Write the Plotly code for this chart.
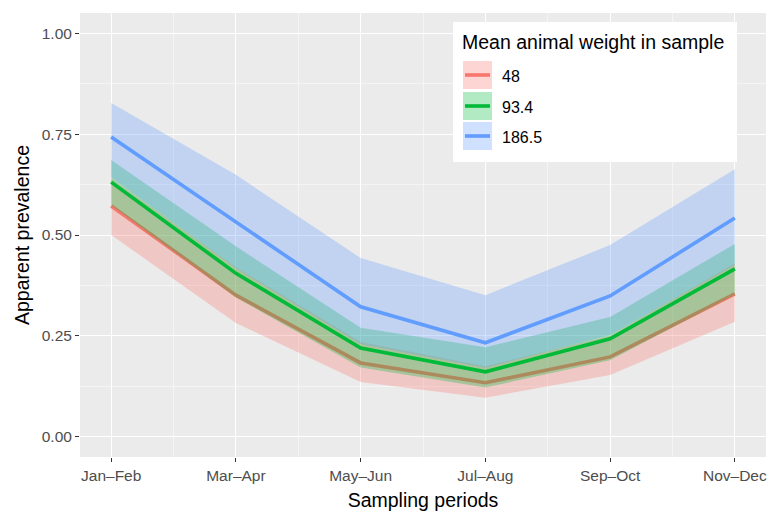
import plotly.graph_objects as go

# Sampling periods (x axis categories)
periods = ["Jan–Feb", "Mar–Apr", "May–Jun", "Jul–Aug", "Sep–Oct", "Nov–Dec"]

# Mean animal weight groups
weights = ["48", "93.4", "186.5"]

# Predicted apparent prevalence and confidence band per weight group
fit_48 = [0.572, 0.351, 0.183, 0.134, 0.198, 0.354]
low_48 = [0.500, 0.282, 0.136, 0.097, 0.153, 0.285]
upp_48 = [0.640, 0.420, 0.235, 0.175, 0.250, 0.430]

fit_93 = [0.631, 0.405, 0.220, 0.161, 0.243, 0.416]
low_93 = [0.574, 0.345, 0.172, 0.122, 0.190, 0.352]
upp_93 = [0.686, 0.472, 0.270, 0.222, 0.297, 0.478]

fit_186 = [0.743, 0.532, 0.322, 0.233, 0.349, 0.542]
low_186 = [0.643, 0.418, 0.230, 0.171, 0.252, 0.426]
upp_186 = [0.827, 0.649, 0.443, 0.351, 0.475, 0.663]

y_ticks = [0.0, 0.25, 0.5, 0.75, 1.0]
y_tick_labels = ["0.00", "0.25", "0.50", "0.75", "1.00"]

colors = ["#F8766D", "#00BA38", "#619CFF"]
fills = ["rgba(248,118,109,0.3)", "rgba(0,186,56,0.3)", "rgba(97,156,255,0.3)"]

series = [
    (fit_48, low_48, upp_48),
    (fit_93, low_93, upp_93),
    (fit_186, low_186, upp_186),
]

W, H = 767, 515
ML, MR, MT, MB = 80, 1, 13, 58
PW, PH = W - ML - MR, H - MT - MB

xpos = list(range(1, len(periods) + 1))

fig = go.Figure()
for (fit, low, upp), col, fc, name in zip(series, colors, fills, weights):
    # ribbon as a closed polygon: upper edge forward, lower edge back
    fig.add_trace(go.Scatter(
        x=xpos + xpos[::-1],
        y=upp + low[::-1],
        fill="toself", fillcolor=fc,
        line=dict(width=0), mode="lines",
        hoverinfo="skip", showlegend=False,
    ))
    fig.add_trace(go.Scatter(
        x=xpos, y=fit, mode="lines", name=name,
        line=dict(color=col, width=3.6),
        showlegend=False,
    ))


def px(x):
    return (x - ML) / PW


def py(y):
    return 1 - (y - MT) / PH


shapes = []
annotations = []

# legend panel
shapes.append(dict(type="rect", xref="paper", yref="paper",
                   x0=px(453), x1=px(737), y0=py(162), y1=py(22),
                   fillcolor="white", line=dict(width=0), layer="above"))
annotations.append(dict(xref="paper", yref="paper", x=px(460), y=py(42),
                        text="Mean animal weight in sample", showarrow=False,
                        xanchor="left", yanchor="middle",
                        font=dict(size=19.5, color="black")))
row_tops = [61, 92, 122]
for top, col, fc, name in zip(row_tops, colors, fills, weights):
    shapes.append(dict(type="rect", xref="paper", yref="paper",
                       x0=px(463), x1=px(492), y0=py(top + 28), y1=py(top),
                       fillcolor=fc, line=dict(width=0), layer="above"))
    shapes.append(dict(type="line", xref="paper", yref="paper",
                       x0=px(465), x1=px(490), y0=py(top + 14), y1=py(top + 14),
                       line=dict(color=col, width=3.6), layer="above"))
    annotations.append(dict(xref="paper", yref="paper", x=px(500), y=py(top + 15),
                            text=name, showarrow=False,
                            xanchor="left", yanchor="middle",
                            font=dict(size=16, color="black")))

fig.update_layout(
    width=W, height=H,
    margin=dict(l=ML, r=MR, t=MT, b=MB),
    paper_bgcolor="white",
    plot_bgcolor="#EBEBEB",
    font=dict(family="Liberation Sans, Arial, sans-serif"),
    shapes=shapes,
    annotations=annotations,
    showlegend=False,
)

fig.update_xaxes(
    range=[0.75, 6.25],
    tickmode="array", tickvals=xpos, ticktext=periods,
    ticks="outside", ticklen=4, tickwidth=1, tickcolor="#333333",
    tickfont=dict(size=15.5, color="#4D4D4D"),
    showgrid=True, gridcolor="white", gridwidth=1.3,
    minor=dict(tickmode="linear", tick0=0.5, dtick=1, showgrid=True,
               gridcolor="#F5F5F5", gridwidth=0.6, ticks=""),
    zeroline=False, showline=False,
    title=dict(text="Sampling periods", font=dict(size=19.5, color="black"),
               standoff=10),
)

fig.update_yaxes(
    range=[-0.05, 1.05],
    tickmode="array", tickvals=y_ticks, ticktext=y_tick_labels,
    ticks="outside", ticklen=4, tickwidth=1, tickcolor="#333333",
    tickfont=dict(size=15.5, color="#4D4D4D"),
    showgrid=True, gridcolor="white", gridwidth=1.3,
    minor=dict(tickmode="linear", tick0=0.125, dtick=0.25, showgrid=True,
               gridcolor="#F5F5F5", gridwidth=0.6, ticks=""),
    zeroline=False, showline=False,
    title=dict(text="Apparent prevalence", font=dict(size=19.5, color="black"),
               standoff=6),
)

fig.write_html("out.html")
